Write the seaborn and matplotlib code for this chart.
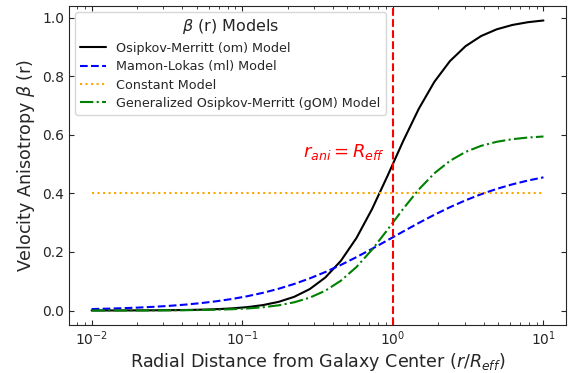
import matplotlib
matplotlib.use("Agg")
import matplotlib.pyplot as plt
import seaborn as sns
import pandas as pd

# Radial grid (r / R_eff), logarithmically spaced
radius = [0.01, 0.01269, 0.016103, 0.020434, 0.025929, 0.032903, 0.041753,
          0.052983, 0.067234, 0.085317, 0.108264, 0.137382, 0.174333,
          0.221222, 0.280722, 0.356225, 0.452035, 0.573615, 0.727895,
          0.923671, 1.172102, 1.487352, 1.887392, 2.395027, 3.039195,
          3.85662, 4.893901, 6.210169, 7.880463, 10.0]

beta_om = [0.0001, 0.00016, 0.00026, 0.00042, 0.00067, 0.00108, 0.00174,
           0.0028, 0.0045, 0.00723, 0.01158, 0.01852, 0.0295, 0.04666,
           0.07305, 0.11261, 0.16967, 0.24757, 0.34634, 0.46038, 0.57874,
           0.68869, 0.78081, 0.85155, 0.90231, 0.937, 0.95992, 0.97473,
           0.98415, 0.9901]

beta_ml = [0.00495, 0.00627, 0.00792, 0.01001, 0.01264, 0.01593, 0.02004,
           0.02516, 0.0315, 0.03931, 0.04884, 0.06039, 0.07423, 0.09057,
           0.1096, 0.13133, 0.15566, 0.18226, 0.21063, 0.24008, 0.26981,
           0.29898, 0.32683, 0.35273, 0.37621, 0.39705, 0.41517, 0.43065,
           0.4437, 0.45455]

beta_const = [0.4] * 30

beta_gom = [0.00006, 0.0001, 0.00016, 0.00025, 0.0004, 0.00065, 0.00104,
            0.00168, 0.0027, 0.00434, 0.00695, 0.01111, 0.0177, 0.028,
            0.04383, 0.06757, 0.1018, 0.14854, 0.2078, 0.27623, 0.34724,
            0.41321, 0.46849, 0.51093, 0.54139, 0.5622, 0.57595, 0.58484,
            0.59049, 0.59406]

r_ani = 1.0

labels = ["Osipkov-Merritt (om) Model", "Mamon-Lokas (ml) Model",
          "Constant Model", "Generalized Osipkov-Merritt (gOM) Model"]

sns.set_style("ticks", {"xtick.direction": "in", "ytick.direction": "in",
                        "xtick.top": True, "ytick.right": True})
plt.rcParams["font.family"] = ["DejaVu Sans"]

fig = plt.figure(figsize=(5.72, 3.73), dpi=100)
ax = fig.add_axes([0.1206, 0.1287, 0.869, 0.8553])

df = pd.DataFrame({"r": radius, "om": beta_om, "ml": beta_ml,
                   "const": beta_const, "gom": beta_gom})

sns.lineplot(data=df, x="r", y="om", ax=ax, color="black", lw=1.5,
             linestyle="-", label=labels[0])
sns.lineplot(data=df, x="r", y="ml", ax=ax, color="blue", lw=1.5,
             linestyle="--", label=labels[1])
sns.lineplot(data=df, x="r", y="const", ax=ax, color="orange", lw=1.5,
             linestyle=":", label=labels[2])
sns.lineplot(data=df, x="r", y="gom", ax=ax, color="green", lw=1.5,
             linestyle="-.", label=labels[3])

ax.axvline(r_ani, color="red", linestyle="--", lw=1.5)
ax.text(0.885, 0.54, r"$r_{ani} = R_{eff}$", color="red", fontsize=13,
        ha="right", va="center")

ax.set_xscale("log")
ax.set_yticks([0.0, 0.2, 0.4, 0.6, 0.8, 1.0])
ax.tick_params(which="both", direction="in", top=True, right=True,
               labelsize=10)
ax.set_xlabel(r"Radial Distance from Galaxy Center ($r/R_{eff}$)",
              fontsize=12.6, labelpad=1.5)
ax.set_ylabel(r"Velocity Anisotropy $\beta$ (r)", fontsize=12.6)

ax.legend(title=r"$\beta$ (r) Models", loc="upper left", fontsize=9.2,
          title_fontsize=11.5, labelspacing=0.42)

fig.savefig("out.png", dpi=100)
